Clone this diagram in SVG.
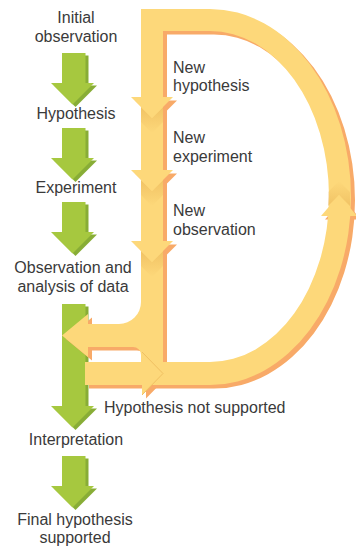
<svg xmlns="http://www.w3.org/2000/svg" width="356" height="548" viewBox="0 0 356 548">
<style>
  text { font-family: "Liberation Sans", Arial, sans-serif; font-size: 16px; fill: #3a3a3a; }
  .gf { fill: #a6c83f; }
  .gs { fill: #88ad36; }
  .y { fill: #fdd87a; }
  .sh { fill: #f8aa68; }
  .edge { fill: none; stroke: #f0c062; stroke-width: 1; }
</style>
<defs>
  <path id="garrow" d="M62,0 H85.5 V30 H94 L72.5,51.5 L51,30 H62 Z"/>
  <path id="gbar" d="M62,304 H85.5 V406 H94 L72.5,427.5 L51,406 H62 Z"/>
  <path id="ring" fill-rule="evenodd" d="M141,9 H210 A141,188 0 0 1 210,385 H141 Z M163,31 H210 A119,165.5 0 0 1 210,362 H163 Z"/>
  <path id="leftArrow" d="M141,302 A22,22 0 0 1 119,324 H88 V314 L62,335.5 L88,357 V347 H133 A8,8 0 0 1 141,355 Z"/>
  <path id="rightArrow" d="M85,362 H142 V352 L163,373.5 L142,395 V385 H85 Z"/>
  <polygon id="h1" points="131,97 173,97 152,118"/>
  <polygon id="h2" points="131,170 173,170 152,191"/>
  <polygon id="h3" points="131,241 173,241 152,262"/>
  <polygon id="hup" points="321,216 357,216 339,195"/>
  <linearGradient id="shadeDown" x1="0" y1="0" x2="0" y2="1">
    <stop offset="0" stop-color="#e3a94a" stop-opacity="0.45"/>
    <stop offset="1" stop-color="#e3a94a" stop-opacity="0"/>
  </linearGradient>
  <linearGradient id="shadeUp" x1="0" y1="1" x2="0" y2="0">
    <stop offset="0" stop-color="#e3a94a" stop-opacity="0.45"/>
    <stop offset="1" stop-color="#e3a94a" stop-opacity="0"/>
  </linearGradient>
</defs>

<g id="connectors">
  <g id="green-arrows">
    <use href="#garrow" class="gs" transform="translate(3,55.5)"/>
    <use href="#garrow" class="gf" transform="translate(0,53)"/>
    <use href="#garrow" class="gs" transform="translate(3,130.5)"/>
    <use href="#garrow" class="gf" transform="translate(0,128)"/>
    <use href="#garrow" class="gs" transform="translate(3,204.5)"/>
    <use href="#garrow" class="gf" transform="translate(0,202)"/>
    <use href="#gbar" class="gs" transform="translate(3,2.5)"/>
    <use href="#gbar" class="gf"/>
    <use href="#garrow" class="gs" transform="translate(3,458.5)"/>
    <use href="#garrow" class="gf" transform="translate(0,456)"/>
  </g>
  <g id="loop">
    <g class="sh" transform="translate(4,3.5)">
      <use href="#ring"/>
      <use href="#leftArrow"/>
      <use href="#rightArrow"/>
      <use href="#h1"/>
      <use href="#h2"/>
      <use href="#h3"/>
      <use href="#hup"/>
    </g>
    <g class="y">
      <use href="#ring"/>
      <use href="#leftArrow"/>
      <use href="#rightArrow"/>
    </g>
    <g fill="url(#shadeDown)">
      <polygon points="141,107 152,118 163,107 163,122 152,133 141,122"/>
      <polygon points="141,180 152,191 163,180 163,195 152,206 141,195"/>
      <polygon points="141,251 152,262 163,251 163,266 152,277 141,266"/>
    </g>
    <polygon fill="url(#shadeUp)" points="328,206 339,195 350,206 350,192 339,181 328,192"/>
    <g class="y">
      <use href="#h1"/>
      <use href="#h2"/>
      <use href="#h3"/>
      <use href="#hup"/>
    </g>
    <polyline class="edge" points="142,352 163,373.5 142,395"/>
  </g>
</g>

<g id="node-initial-observation">
  <text x="76" y="23" text-anchor="middle">Initial</text>
  <text x="76" y="42" text-anchor="middle">observation</text>
</g>
<g id="node-hypothesis">
  <text x="76" y="119" text-anchor="middle">Hypothesis</text>
</g>
<g id="node-experiment">
  <text x="76" y="193" text-anchor="middle">Experiment</text>
</g>
<g id="node-observation-analysis">
  <text x="73" y="273" text-anchor="middle">Observation and</text>
  <text x="73" y="292" text-anchor="middle">analysis of data</text>
</g>
<g id="node-interpretation">
  <text x="76" y="445" text-anchor="middle">Interpretation</text>
</g>
<g id="node-final">
  <text x="75" y="525" text-anchor="middle">Final hypothesis</text>
  <text x="75" y="543" text-anchor="middle">supported</text>
</g>
<g id="node-new-hypothesis">
  <text x="173" y="73">New</text>
  <text x="173" y="91">hypothesis</text>
</g>
<g id="node-new-experiment">
  <text x="173" y="143">New</text>
  <text x="173" y="162">experiment</text>
</g>
<g id="node-new-observation">
  <text x="173" y="216">New</text>
  <text x="173" y="235">observation</text>
</g>
<g id="node-not-supported">
  <text x="104" y="413">Hypothesis not supported</text>
</g>
</svg>
